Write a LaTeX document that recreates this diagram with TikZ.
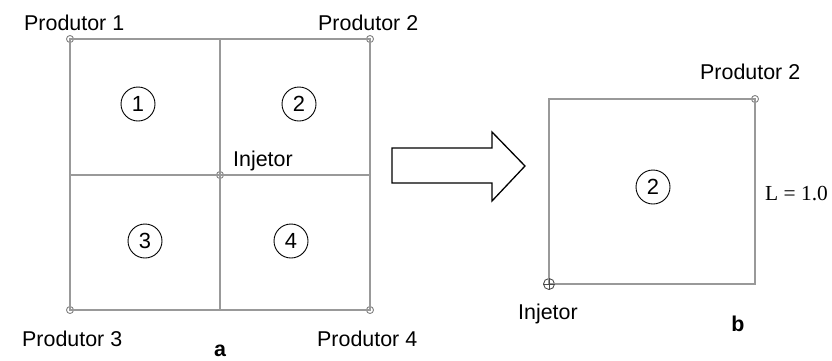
\documentclass[tikz,border=0pt]{standalone}
\usepackage{fontspec}
\setmainfont{Liberation Sans}
\newfontfamily\serifL{Liberation Serif}
\begin{document}
\begin{tikzpicture}[x=1bp,y=-1bp,
  grid/.style={draw=black!40, line width=1.3bp},
  well/.style={circle, draw=black!50, line width=0.9bp, minimum size=7bp, inner sep=0},
  inj/.style={circle, draw=black!70, line width=0.9bp, minimum size=11bp, inner sep=0},
  num/.style={circle, draw=black, line width=0.9bp, minimum size=34bp, inner sep=0, font=\fontsize{22}{26}\selectfont},
  lbl/.style={font=\fontsize{21.5}{25}\selectfont, inner sep=0},
  big/.style={draw=black, line width=1.3bp, line join=miter}]
\useasboundingbox (0,0) rectangle (832,360);
% left grid
\node[well] (p1) at (70,39) {};
\node[well] (p2) at (370,39) {};
\node[well] (p3) at (70,310) {};
\node[well] (p4) at (370,310) {};
\node[well] (inl) at (220,175) {};
\coordinate (m1) at (220,39);
\coordinate (m2) at (370,175);
\coordinate (m3) at (220,310);
\coordinate (m4) at (70,175);
\draw[grid] (p1.center) -- (p2.center) -- (p4.center) -- (p3.center) -- cycle;
\draw[grid] (m1) -- (m3) (m4) -- (m2);
\node[num] (n1) at (138,104) {1};
\node[num] (n2) at (299,104) {2};
\node[num] (n3) at (145,241) {3};
\node[num] (n4) at (291,241) {4};
\node[lbl, anchor=base west] (t1) at (24,30) {Produtor 1};
\node[lbl, anchor=base west] (t2) at (318,30) {Produtor 2};
\node[lbl, anchor=base west] (t3) at (22,346) {Produtor 3};
\node[lbl, anchor=base west] (t4) at (317,346) {Produtor 4};
\node[lbl, anchor=base west] (ti) at (233,166) {Injetor};
\node[lbl, anchor=base, font=\fontsize{21.5}{25}\selectfont\bfseries] (ta) at (220,356) {a};
% arrow
\draw[big] (392,148) -- (492,148) -- (492,132) -- (525,166) -- (492,201) -- (492,183) -- (392,183) -- cycle;
% right square
\coordinate (r1) at (549,99);
\coordinate (r3) at (755,284);
\node[well] (q2) at (755,99) {};
\node[inj] (qi) at (549,284) {};
\draw[grid] (qi.center) -- (r1) -- (q2.center) -- (r3) -- cycle;
\draw[black!70, line width=0.9bp] (qi.north) -- (qi.south) (qi.west) -- (qi.east);
\node[num] (n2b) at (653,187) {2};
\node[lbl, anchor=base west] (u2) at (700,79) {Produtor 2};
\node[lbl, anchor=base west] (ui) at (518,319) {Injetor};
\node[lbl, anchor=base west, font=\fontsize{21.5}{25}\selectfont\serifL] (uL) at (765,200) {L = 1.0};
\node[lbl, anchor=base, font=\fontsize{21.5}{25}\selectfont\bfseries] (ub) at (738,331) {b};
\end{tikzpicture}
\end{document}
